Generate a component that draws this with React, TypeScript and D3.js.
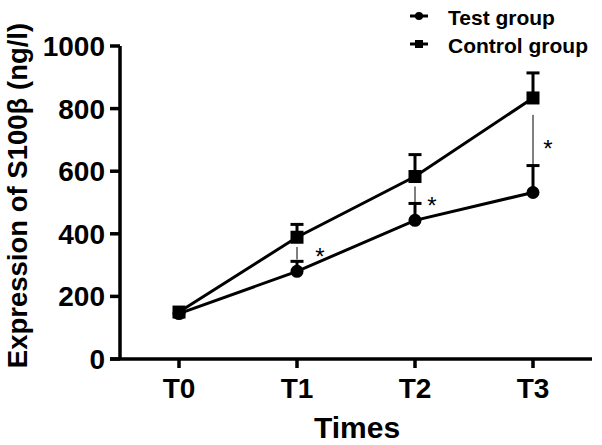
import React from "react";
import * as d3 from "d3";

const categories = ["T0", "T1", "T2", "T3"];
const testMean = [145, 280, 443, 532];
const testErr = [0, 32, 54, 86];
const controlMean = [150, 389, 583, 834];
const controlErr = [0, 41, 70, 80];
const yTicks = [0, 200, 400, 600, 800, 1000];
// significance brackets: [index, from value, to value, star value]
const sigIndex = [1, 2, 3];
const sigFrom = [358, 551, 780];
const sigTo = [318, 478, 621];
const starValue = [347, 510, 691];
const legendLabels = ["Test group", "Control group"];

const W = 602;
const H = 445;
const FONT = "'Liberation Sans', Arial, sans-serif";

export default function App() {
  const x = d3.scaleLinear().domain([-0.5, 3.5]).range([120, 592]);
  const y = d3.scaleLinear().domain([0, 1000]).range([359, 46]);
  const line = d3
    .line<number>()
    .x((_, i) => x(i))
    .y((d) => y(d));

  const sq = 13;
  const capW = 13;

  const errorBars = (means: number[], errs: number[], key: string) =>
    means.map((m, i) =>
      errs[i] > 0 ? (
        <g key={key + i}>
          <line x1={x(i)} x2={x(i)} y1={y(m)} y2={y(m + errs[i])} stroke="#000" strokeWidth={3} />
          <line
            x1={x(i) - capW / 2}
            x2={x(i) + capW / 2}
            y1={y(m + errs[i])}
            y2={y(m + errs[i])}
            stroke="#000"
            strokeWidth={3}
          />
        </g>
      ) : null
    );

  return (
    <svg
      width={W}
      height={H}
      style={{ position: "absolute", left: 0, top: 0, background: "#fff" }}
      fontFamily={FONT}
    >
      <rect width={W} height={H} fill="#fff" />
      {/* axes */}
      <line x1={120} x2={120} y1={y(1000)} y2={y(0)} stroke="#000" strokeWidth={3.5} />
      <line x1={110} x2={592} y1={y(0)} y2={y(0)} stroke="#000" strokeWidth={3.5} />
      {yTicks.map((t) => (
        <g key={"yt" + t}>
          <line x1={110} x2={120} y1={y(t)} y2={y(t)} stroke="#000" strokeWidth={3.5} />
          <text
            x={105}
            y={y(t)}
            dy="0.36em"
            textAnchor="end"
            fontSize={28}
            fontWeight="bold"
          >
            {t}
          </text>
        </g>
      ))}
      {categories.map((c, i) => (
        <g key={"xt" + c}>
          <line x1={x(i)} x2={x(i)} y1={y(0)} y2={y(0) + 9} stroke="#000" strokeWidth={3.5} />
          <text x={x(i)} y={398} textAnchor="middle" fontSize={28} fontWeight="bold">
            {c}
          </text>
        </g>
      ))}
      <text x={357} y={438} textAnchor="middle" fontSize={30} fontWeight="bold">
        Times
      </text>
      <text
        transform={`translate(27,${(y(0) + y(1000)) / 2 - 7}) rotate(-90)`}
        textAnchor="middle"
        fontSize={27.5}
        fontWeight="bold"
      >
        Expression of S100β (ng/l)
      </text>

      {/* error bars */}
      {errorBars(testMean, testErr, "te")}
      {errorBars(controlMean, controlErr, "ce")}

      {/* lines */}
      <path d={line(testMean) || ""} fill="none" stroke="#000" strokeWidth={3} />
      <path d={line(controlMean) || ""} fill="none" stroke="#000" strokeWidth={3} />

      {/* markers */}
      {testMean.map((m, i) => (
        <circle key={"tm" + i} cx={x(i)} cy={y(m)} r={6.5} fill="#000" />
      ))}
      {controlMean.map((m, i) => (
        <rect key={"cm" + i} x={x(i) - sq / 2} y={y(m) - sq / 2} width={sq} height={sq} fill="#000" />
      ))}

      {/* significance */}
      {sigIndex.map((idx, k) => (
        <g key={"sig" + k}>
          <line x1={x(idx)} x2={x(idx)} y1={y(sigFrom[k])} y2={y(sigTo[k])} stroke="#000" strokeWidth={1} />
          <text
            x={x(idx) + (k === 0 ? 23 : k === 1 ? 17 : 15)}
            y={y(starValue[k])}
            dy="0.6em"
            textAnchor="middle"
            fontSize={24}
          >
            *
          </text>
        </g>
      ))}

      {/* legend */}
      {legendLabels.map((l, i) => (
        <g key={"lg" + i} transform={`translate(0,${16 + i * 28})`}>
          <line x1={410} x2={428} y1={0} y2={0} stroke="#000" strokeWidth={3} />
          {i === 0 ? (
            <circle cx={419} cy={0} r={4} fill="#000" />
          ) : (
            <rect x={415} y={-4} width={8} height={8} fill="#000" />
          )}
          <text x={448} y={9} fontSize={21} fontWeight="bold">
            {l}
          </text>
        </g>
      ))}
    </svg>
  );
}
